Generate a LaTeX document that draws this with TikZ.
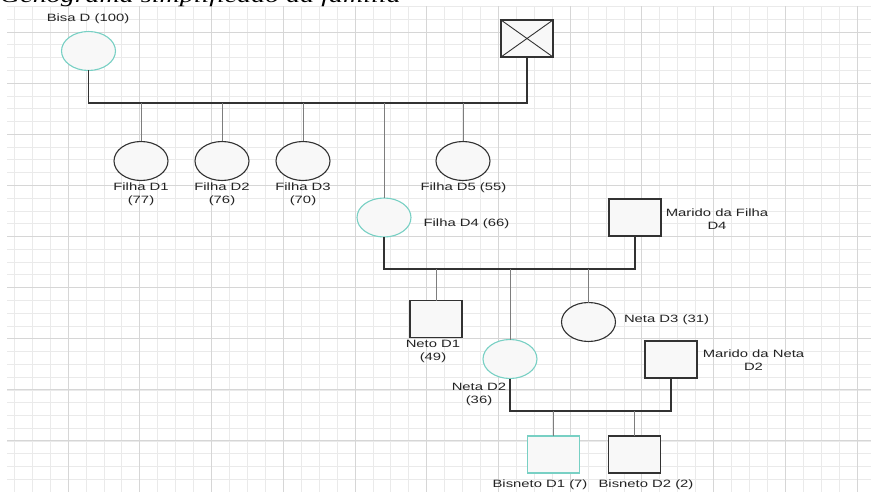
\documentclass[tikz,border=0pt]{standalone}
\usepackage{fontspec}
\newfontfamily\lblfont[FakeStretch=1.4]{Liberation Sans}
\newfontfamily\titlefont[FakeStretch=1.4]{Liberation Serif}
\definecolor{gdteal}{RGB}{120,208,196}
\definecolor{gdline}{RGB}{50,50,50}
\definecolor{gdstem}{RGB}{125,125,125}
\definecolor{gdfill}{RGB}{248,248,248}
\definecolor{gdmajor}{RGB}{214,214,214}
\definecolor{gdminor}{RGB}{234,234,234}
\definecolor{gdtext}{RGB}{35,35,35}
\usetikzlibrary{shapes.geometric}

\begin{document}
\begin{tikzpicture}[x=1pt, y=-1pt,
  fem/.style={ellipse, draw=gdline, fill=gdfill, line width=1.1pt, minimum width=54pt, minimum height=39pt, inner sep=0pt, outer sep=0pt},
  masc/.style={rectangle, draw=gdline, fill=gdfill, line width=1.1pt, minimum width=52pt, minimum height=37pt, inner sep=0pt, outer sep=0pt},
  index/.style={draw=gdteal},
  couple/.style={gdline, line width=1.2pt},
  stem/.style={gdstem, line width=0.8pt},
  lbl/.style={font=\lblfont\fontsize{10.6}{12.5}\selectfont, text=gdtext, inner sep=0pt, align=center}]
\useasboundingbox (0,0) rectangle (871,492);
% Background grid
\begin{scope}
\clip (7,7) rectangle (871,492);
\foreach \i in {0,...,47} \draw[gdminor, line width=0.6pt] ({14.2+17.93*\i},0) -- ({14.2+17.93*\i},492);
\foreach \j in {0,...,38} \draw[gdminor, line width=0.6pt] (0,{6.4+12.78*\j}) -- (871,{6.4+12.78*\j});
\foreach \i in {0,...,11} \draw[gdmajor, line width=0.8pt] ({68+71.73*\i},0) -- ({68+71.73*\i},492);
\foreach \j in {0,...,9} \draw[gdmajor, line width=0.8pt] (0,{32+51.1*\j}) -- (871,{32+51.1*\j});
\end{scope}
% Title, cut at the top
\begin{scope}
\clip (0,0) rectangle (871,492);
\node[anchor=base west, inner sep=0pt, font=\titlefont\itshape\fontsize{20}{24}\selectfont] (titulo) at (0,2.5) {Genograma simplificado da família};
\end{scope}
% First generation
\node[fem, index] (bisa) at (88.5,51) {};
\node[lbl] (lbisa) at (88,19) {Bisa D (100)};
\node[masc] (bisavo) at (527,38.5) {};
\draw[gdline, line width=0.9pt] (bisavo.north west) -- (bisavo.south east) (bisavo.north east) -- (bisavo.south west);
\coordinate (g1) at (300,103);
\draw[couple] (bisa.south) |- (g1) -| (bisavo.south);
% Daughters
\foreach \x/\n/\idade in {141/1/77, 222/2/76, 303/3/70} {
  \node[fem] (f\n) at (\x,161) {};
  \node[lbl] (lf\n) at (\x,194.5) {Filha D\n\\(\idade)};
  \draw[stem] (f\n.north) -- (f\n.north |- g1);
}
\node[fem] (f5) at (463,161) {};
\node[lbl] (lf5) at (463.5,187.5) {Filha D5 (55)};
\draw[stem] (f5.north) -- (f5.north |- g1);
\node[fem, index] (f4) at (384,217.5) {};
\node[lbl] (lf4) at (466.5,224) {Filha D4 (66)};
\draw[stem] (f4.north) -- (f4.north |- g1);
\node[masc] (mf4) at (635,217.5) {};
\node[lbl] (lmf4) at (717,219) {Marido da Filha\\D4};
\coordinate (g2) at (500,269);
\draw[couple] (f4.south) |- (g2) -| (mf4.south);
% Grandchildren
\node[masc] (neto1) at (436,319) {};
\node[lbl] (lneto1) at (433,351.5) {Neto D1\\(49)};
\node[fem, index] (neta2) at (510,359) {};
\node[lbl] (lneta2) at (479,394.5) {Neta D2\\(36)};
\node[fem] (neta3) at (588.5,322) {};
\node[lbl] (lneta3) at (666.5,319.5) {Neta D3 (31)};
\foreach \k in {neto1, neta2, neta3}
  \draw[stem] (\k.north) -- (\k.north |- g2);
\node[masc] (mn2) at (671,359.5) {};
\node[lbl] (lmn2) at (753.5,360) {Marido da Neta\\D2};
\coordinate (g3) at (600,411);
\draw[couple] (neta2.south) |- (g3) -| (mn2.south);
% Great-grandchildren
\node[masc, index] (bis1) at (553.5,454.5) {};
\node[lbl] (lbis1) at (540,484.5) {Bisneto D1 (7)};
\node[masc] (bis2) at (634.5,454.5) {};
\node[lbl] (lbis2) at (646,484.5) {Bisneto D2 (2)};
\foreach \k in {bis1, bis2}
  \draw[stem] (\k.north) -- (\k.north |- g3);
\end{tikzpicture}
\end{document}
